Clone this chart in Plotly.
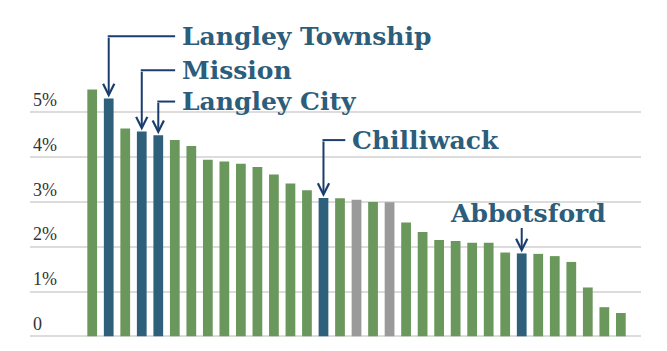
import plotly.graph_objects as go

values = [5.51, 5.31, 4.64, 4.57, 4.49, 4.38, 4.25, 3.94, 3.90, 3.85, 3.78,
          3.61, 3.41, 3.26, 3.09, 3.08, 3.05, 3.00, 2.99, 2.54, 2.33, 2.15,
          2.13, 2.09, 2.09, 1.87, 1.85, 1.84, 1.79, 1.66, 1.09, 0.65, 0.52]
kinds = ["g", "b", "g", "b", "b", "g", "g", "g", "g", "g", "g",
         "g", "g", "g", "b", "g", "x", "g", "x", "g", "g", "g",
         "g", "g", "g", "g", "b", "g", "g", "g", "g", "g", "g"]
tick_vals = [0, 1, 2, 3, 4, 5]
tick_text = ["0", "1%", "2%", "3%", "4%", "5%"]

# callouts: label, bar index, elbow y (data units), text x (data units)
callouts = [
    ("Langley Township", 1, 6.70, 5.32),
    ("Mission", 3, 5.94, 5.32),
    ("Langley City", 4, 5.24, 5.32),
    ("Chilliwack", 14, 4.38, 15.62),
]
abbots = ("Abbotsford", 26, 2.45)

palette = {"g": "#6a975c", "b": "#2e607b", "x": "#9a9a9a"}
colors = [palette[k] for k in kinds]
xs = list(range(len(values)))

TEXT_C = "#2c5d7a"
ARROW_C = "#1b3d6e"
FONT_B = "DejaVu Serif"

fig = go.Figure(go.Bar(x=xs, y=values, marker=dict(color=colors, line=dict(width=0)),
                       width=0.59, hoverinfo="skip"))

ann = []
shapes = []
for label, idx, ey, tx in callouts:
    ann.append(dict(x=idx, y=values[idx], ax=idx, ay=ey, xref="x", yref="y",
                    axref="x", ayref="y", showarrow=True, arrowhead=5,
                    arrowsize=1.1, arrowwidth=2, arrowcolor=ARROW_C, standoff=1,
                    text=""))
    shapes.append(dict(type="line", xref="x", yref="y", x0=idx - 0.06, x1=tx - 0.3,
                       y0=ey, y1=ey, line=dict(color=ARROW_C, width=2)))
    ann.append(dict(x=tx, y=ey, xref="x", yref="y", text=label, showarrow=False,
                    xanchor="left", yanchor="middle",
                    font=dict(family=FONT_B, size=25, color=TEXT_C, weight="bold")))

label, idx, ey = abbots
ann.append(dict(x=idx, y=values[idx], ax=idx, ay=ey, xref="x", yref="y",
                axref="x", ayref="y", showarrow=True, arrowhead=5,
                arrowsize=1.1, arrowwidth=2, arrowcolor=ARROW_C, standoff=1, text=""))
ann.append(dict(x=idx, y=ey, xref="x", yref="y", text=label, showarrow=False,
                xanchor="center", yanchor="bottom", xshift=6, yshift=-3,
                font=dict(family=FONT_B, size=25, color=TEXT_C, weight="bold")))

fig.update_layout(
    width=667, height=351,
    margin=dict(l=30, r=26, t=0, b=0),
    paper_bgcolor="white", plot_bgcolor="white",
    showlegend=False,
    bargap=0.41,
    annotations=ann, shapes=shapes,
    xaxis=dict(range=[-3.765, 33.22], showticklabels=False, showgrid=False,
               zeroline=False, showline=False, ticks=""),
    yaxis=dict(range=[-0.328, 7.507], tickvals=tick_vals, ticktext=tick_text,
               ticklabelposition="inside top", ticks="", showgrid=True,
               gridcolor="#dcdcdc", gridwidth=1.5, zeroline=False, showline=False,
               tickfont=dict(family="Liberation Serif", size=18, color="#333333")),
)

fig.write_html("out.html")
